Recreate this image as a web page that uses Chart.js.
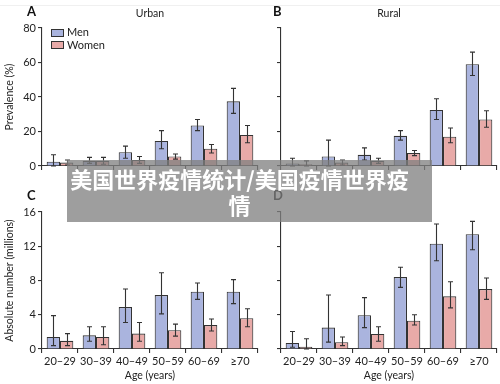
<!DOCTYPE html>
<html>
<head>
<meta charset="utf-8">
<script src="https://cdn.jsdelivr.net/npm/chart.js@4.4.0/dist/chart.umd.min.js"></script>
<style>
    body { margin: 0; width: 500px; height: 384px; position: relative; background: #fff; overflow: hidden; font-family: Lato, 'Open Sans', sans-serif; }
    canvas { position: absolute; }
    .txt { position: absolute; color: #222; font-size: 10.5px; line-height: 12px; white-space: nowrap; }
    .letter { position: absolute; font-weight: bold; font-size: 13px; color: #111; }
    .swatch { position: absolute; width: 11px; height: 6px; border: 1px solid #333; }
    .banner { position: absolute; left: 67px; top: 160px; width: 365px; height: 62px; background: rgba(128, 128, 128, 0.76); }
    .banner div { width: 345px; text-align: center; color: #fff; font-family: 'Noto Sans CJK SC', sans-serif; font-weight: bold; font-size: 22px; line-height: 26px; padding-top: 5px; }
</style>
</head>
<body>
<div style="position:absolute;left:0;top:5px;width:500px;height:1px;background:#f0f0f0"></div>

<canvas id="chartA" width="260" height="180" style="left:0;top:0"></canvas>
<canvas id="chartB" width="261" height="180" style="left:239px;top:0"></canvas>
<canvas id="chartC" width="260" height="204" style="left:0;top:180px"></canvas>
<canvas id="chartD" width="261" height="204" style="left:239px;top:180px"></canvas>

<div class="letter" style="left:27px;top:3px">A</div>
<div class="letter" style="left:273px;top:3px">B</div>
<div class="letter" style="left:27px;top:187px">C</div>
<div class="letter" style="left:273px;top:187px">D</div>
<div class="txt" style="left:150px;top:7px;transform:translateX(-50%)">Urban</div>
<div class="txt" style="left:389px;top:7px;transform:translateX(-50%)">Rural</div>

<div class="swatch" style="left:51px;top:29px;background:#aab4de"></div>
<div class="txt" style="left:67px;top:26px;font-size:11px">Men</div>
<div class="swatch" style="left:51px;top:41px;background:#e8aaa8"></div>
<div class="txt" style="left:67px;top:39px;font-size:11px">Women</div>

<div class="banner"><div>美国世界疫情统计/美国疫情世界疫<br>情</div></div>

<script>
// age groups on the x axis
const ageGroups = ['20–29', '30–39', '40–49', '50–59', '60–69', '≥70'];

// A: urban prevalence (%)
const urbanMen = [2.5, 3, 8, 14.5, 23.5, 37.5];
const urbanMenCI = [[0, 6.5], [1.5, 5], [4.5, 11.5], [10, 20.5], [20.5, 27], [30.5, 45]];
const urbanWomen = [2, 3, 3.5, 5.5, 10, 18];
const urbanWomenCI = [[0.5, 3.5], [1, 5], [1.5, 5.5], [4, 7], [7.5, 12.5], [13.5, 23.5]];

// B: rural prevalence (%)
const ruralMen = [1.5, 5.5, 6.5, 17.5, 32.5, 59];
const ruralMenCI = [[0, 4.5], [0, 15], [3.5, 10.5], [15, 20.5], [27, 39], [52.5, 66]];
const ruralWomen = [1, 2, 3, 7.5, 17, 27];
const ruralWomenCI = [[0, 3], [0.5, 3.5], [1.5, 4.5], [6, 9], [13.5, 22], [22.5, 32]];

// C: urban absolute number (millions)
const urbanMenAbs = [1.4, 1.6, 4.9, 6.3, 6.7, 6.7];
const urbanMenAbsCI = [[0.4, 3.9], [0.9, 2.6], [3.1, 7.0], [4.1, 8.9], [5.8, 7.7], [5.3, 8.1]];
const urbanWomenAbs = [0.95, 1.4, 1.8, 2.2, 2.8, 3.6];
const urbanWomenAbsCI = [[0.4, 1.8], [0.5, 2.6], [0.9, 3.1], [1.5, 2.9], [2.1, 3.5], [2.6, 4.7]];

// D: rural absolute number (millions)
const ruralMenAbs = [0.7, 2.5, 3.95, 8.4, 12.3, 13.4];
const ruralMenAbsCI = [[0.2, 2.05], [0.8, 6.3], [2.5, 6.0], [7.2, 9.55], [10.3, 14.6], [11.6, 14.9]];
const ruralWomenAbs = [0.25, 0.8, 1.75, 3.3, 6.15, 7.0];
const ruralWomenAbsCI = [[0, 1.2], [0.4, 1.4], [0.9, 2.6], [2.8, 4.0], [4.8, 7.85], [5.8, 8.3]];

const MEN_FILL = '#aab4de';
const WOMEN_FILL = '#e8aaa8';
const INK = '#333';

// draws the confidence interval whiskers on top of each bar
const errorBars = {
    id: 'errorBars',
    afterDatasetsDraw(chart) {
        const ctx = chart.ctx;
        const yScale = chart.scales.y;
        chart.data.datasets.forEach((ds, i) => {
            chart.getDatasetMeta(i).data.forEach((bar, j) => {
                const lo = yScale.getPixelForValue(ds.ci[j][0]);
                const hi = yScale.getPixelForValue(ds.ci[j][1]);
                const x = Math.round(bar.x) + 0.5;
                ctx.save();
                ctx.strokeStyle = INK;
                ctx.lineWidth = 1.1;
                ctx.beginPath();
                ctx.moveTo(x, lo); ctx.lineTo(x, hi);
                ctx.moveTo(x - 2.5, lo); ctx.lineTo(x + 2.5, lo);
                ctx.moveTo(x - 2.5, hi); ctx.lineTo(x + 2.5, hi);
                ctx.stroke();
                ctx.restore();
            });
        });
    }
};

function makePanel(id, men, menCI, women, womenCI, cfg) {
    const tickFont = { family: 'Lato', size: 11 };
    return new Chart(document.getElementById(id), {
        type: 'bar',
        data: {
            labels: ageGroups,
            datasets: [
                { label: 'Men', data: men, ci: menCI, backgroundColor: MEN_FILL, borderColor: INK, borderWidth: 1.1,
                  categoryPercentage: 0.74, barPercentage: 1.0 },
                { label: 'Women', data: women, ci: womenCI, backgroundColor: WOMEN_FILL, borderColor: INK, borderWidth: 1.1,
                  categoryPercentage: 0.74, barPercentage: 1.0 }
            ]
        },
        options: {
            responsive: false,
            animation: false,
            layout: { padding: { top: cfg.padTop, right: cfg.padRight, left: 0, bottom: 0 } },
            plugins: { legend: { display: false }, tooltip: { enabled: false } },
            scales: {
                x: {
                    offset: true,
                    grid: { offset: true, drawOnChartArea: false, drawTicks: true, tickLength: 4, color: INK, lineWidth: 1.1 },
                    border: { display: true, color: INK, width: 1.1 },
                    ticks: { display: cfg.xLabels, color: '#222', font: tickFont, padding: 2, maxRotation: 0 },
                    title: { display: cfg.xLabels, text: 'Age (years)', color: '#222', font: { family: 'Lato', size: 10.5 }, padding: { top: 0, bottom: 2 } },
                    afterFit: s => { s.height = cfg.xHeight; }
                },
                y: {
                    min: 0,
                    max: cfg.max,
                    ticks: { stepSize: cfg.step, display: cfg.yLabels, color: '#222', font: tickFont, padding: 2 },
                    grid: { drawOnChartArea: false, drawTicks: true, tickLength: 4, color: INK, lineWidth: 1.1 },
                    border: { display: true, color: INK, width: 1.1 },
                    title: { display: !!cfg.yTitle, text: cfg.yTitle || '', color: '#222', font: { family: 'Lato', size: 10.5 }, padding: { top: 3, bottom: 0 } },
                    afterFit: s => { s.width = 42; }
                }
            }
        },
        plugins: [errorBars]
    });
}

makePanel('chartA', urbanMen, urbanMenCI, urbanWomen, urbanWomenCI,
    { max: 80, step: 20, yLabels: true, xLabels: false, yTitle: 'Prevalence (%)', padTop: 28, padRight: 2, xHeight: 14 });
makePanel('chartB', ruralMen, ruralMenCI, ruralWomen, ruralWomenCI,
    { max: 80, step: 20, yLabels: false, xLabels: false, yTitle: '', padTop: 28, padRight: 3, xHeight: 14 });
makePanel('chartC', urbanMenAbs, urbanMenAbsCI, urbanWomenAbs, urbanWomenAbsCI,
    { max: 16, step: 4, yLabels: true, xLabels: true, yTitle: 'Absolute number (millions)', padTop: 32, padRight: 2, xHeight: 35 });
makePanel('chartD', ruralMenAbs, ruralMenAbsCI, ruralWomenAbs, ruralWomenAbsCI,
    { max: 16, step: 4, yLabels: false, xLabels: true, yTitle: '', padTop: 32, padRight: 3, xHeight: 35 });
</script>
</body>
</html>
